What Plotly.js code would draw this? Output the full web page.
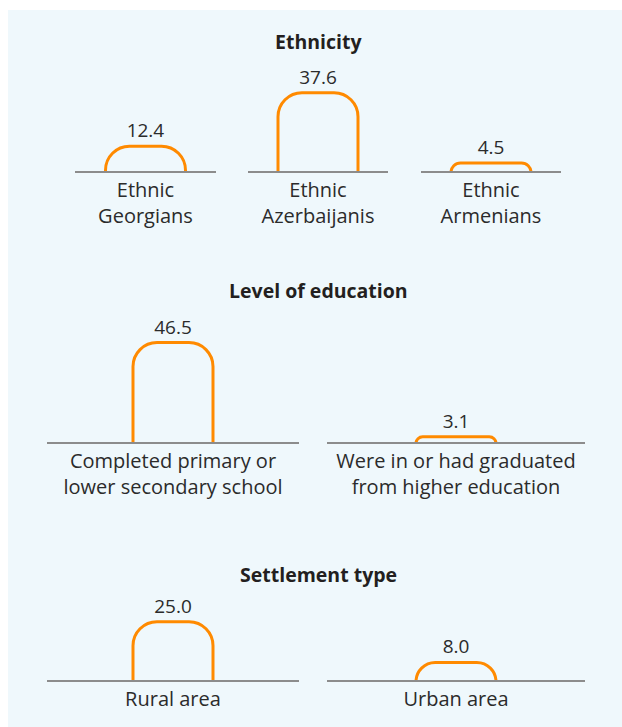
<!DOCTYPE html>
<html>
<head>
<meta charset="utf-8">
<script src="https://cdn.plot.ly/plotly-3.0.1.min.js"></script>
<style>
  html, body { margin: 0; padding: 0; background: #ffffff; }
  #chart { width: 622px; height: 727px; }
</style>
</head>
<body>
<div id="chart"></div>
<script>
// ---- data ----
const sectionTitles = ['Ethnicity', 'Level of education', 'Settlement type'];
const ethnicityCats = ['Ethnic<br>Georgians', 'Ethnic<br>Azerbaijanis', 'Ethnic<br>Armenians'];
const ethnicityVals = [12.4, 37.6, 4.5];
const educationCats = ['Completed primary or<br>lower secondary school', 'Were in or had graduated<br>from higher education'];
const educationVals = [46.5, 3.1];
const settlementCats = ['Rural area', 'Urban area'];
const settlementVals = [25.0, 8.0];

// ---- layout geometry (pixels) ----
const W = 622, H = 727;
const ORANGE = '#ff8a00';
const AXIS = '#8c8c8c';
const TEXT = '#2b2b2b';
const FONT = 'Open Sans, Noto Sans, sans-serif';

const rows = [
  {top: 70,  base: 171, scale: 2.12, cats: ethnicityCats,  vals: ethnicityVals,
   xs: [[75, 216], [248, 388], [421, 561]]},
  {top: 320, base: 442, scale: 2.17, cats: educationCats,  vals: educationVals,
   xs: [[47, 299], [327, 585]]},
  {top: 595, base: 680, scale: 2.4,  cats: settlementCats, vals: settlementVals,
   xs: [[47, 299], [327, 585]]}
];
const titleY = [42, 290, 574];
const BAR_PX = 80;
const R0 = 0.7;

const traces = [];
const layout = {
  width: W, height: H,
  margin: {l: 0, r: 0, t: 0, b: 0},
  paper_bgcolor: '#ffffff',
  plot_bgcolor: 'rgba(0,0,0,0)',
  showlegend: false,
  font: {family: FONT, color: TEXT},
  shapes: [{
    type: 'rect', xref: 'paper', yref: 'paper', layer: 'below',
    x0: 8 / W, x1: 1, y0: 0, y1: 1 - 10 / H,
    fillcolor: '#eff8fc', line: {width: 0}
  }],
  annotations: []
};

let n = 0;
rows.forEach((row, ri) => {
  const ySpan = (row.base - row.top) / row.scale;
  row.cats.forEach((cat, ci) => {
    n += 1;
    const xa = n === 1 ? 'x' : 'x' + n;
    const ya = n === 1 ? 'y' : 'y' + n;
    const xk = n === 1 ? 'xaxis' : 'xaxis' + n;
    const yk = n === 1 ? 'yaxis' : 'yaxis' + n;
    const [x0, x1] = row.xs[ci];
    traces.push({
      type: 'bar',
      x: [cat], y: [row.vals[ci]],
      xaxis: xa, yaxis: ya,
      width: BAR_PX / (x1 - x0),
      marker: {color: 'rgba(0,0,0,0)', line: {color: ORANGE, width: 3}, cornerradius: 24},
      text: [row.vals[ci].toFixed(1)],
      texttemplate: '%{text}',
      textposition: 'outside',
      cliponaxis: false,
      textfont: {family: FONT, size: 19, color: TEXT},
      hoverinfo: 'skip'
    });
    layout[xk] = {
      domain: [x0 / W, x1 / W],
      anchor: ya,
      type: 'category',
      range: [-0.5, 0.5],
      showline: true, linecolor: AXIS, linewidth: 1.5,
      showgrid: false, zeroline: false,
      ticks: '', ticklabelstandoff: 0,
      tickfont: {family: FONT, size: 20, color: TEXT},
      layer: 'above traces',
      fixedrange: true
    };
    layout[yk] = {
      domain: [1 - row.base / H, 1 - row.top / H],
      anchor: xa,
      range: [R0, R0 + ySpan],
      visible: false,
      fixedrange: true
    };
  });
  layout.annotations.push({
    text: '<b>' + sectionTitles[ri] + '</b>',
    xref: 'paper', yref: 'paper',
    x: 318 / W, y: 1 - titleY[ri] / H,
    xanchor: 'center', yanchor: 'middle',
    showarrow: false,
    font: {family: FONT, size: 19.5, color: '#231f20'}
  });
});

Plotly.newPlot('chart', traces, layout, {displayModeBar: false, staticPlot: true});
</script>
</body>
</html>
